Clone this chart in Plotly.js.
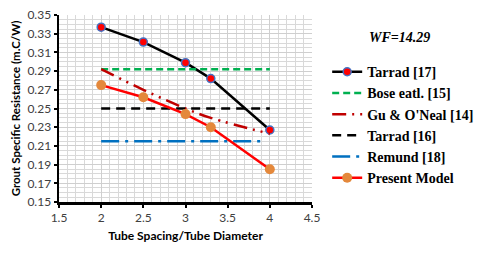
<!DOCTYPE html>
<html><head><meta charset="utf-8">
<script src="https://cdn.plot.ly/plotly-3.0.1.min.js"></script>
<style>body{margin:0;padding:0;background:#fff}</style>
</head><body><div id="chart" style="width:480px;height:254px"></div>
<script>
const xSpacing = [2, 2.5, 3, 3.3, 4];
const tarrad17 = [0.337, 0.321, 0.299, 0.282, 0.227];
const gu = [0.292, 0.270, 0.250, 0.240, 0.223];
const presentModel = [0.275, 0.262, 0.244, 0.230, 0.185];
const flatX = [2, 4];
const bose = [0.292, 0.292];
const tarrad16 = [0.250, 0.250];
const remund = [0.215, 0.215];
const remundX = [2, 3.95];
const names = ['Tarrad [17]', 'Bose eatl. [15]', 'Gu & O\'Neal [14]', 'Tarrad [16]', 'Remund [18]', 'Present Model'];

const traces = [
  {x: xSpacing, y: tarrad17, name: names[0], mode: 'lines+markers',
   line: {color: '#000000', width: 2.5},
   marker: {color: '#FF0000', size: 8, line: {color: '#4472C4', width: 1.5}}},
  {x: flatX, y: bose, name: names[1], mode: 'lines',
   line: {color: '#00B050', width: 2.5, dash: '7px,4px'}},
  {x: xSpacing, y: gu, name: names[2], mode: 'lines', line: {shape: 'spline', color: '#C00000', width: 2.5, dash: '14px,6px,2px,6px,2px,6px'}},
  {x: flatX, y: tarrad16, name: names[3], mode: 'lines',
   line: {color: '#000000', width: 2.5, dash: '9px,6px'}},
  {x: remundX, y: remund, name: names[4], mode: 'lines',
   line: {color: '#0070C0', width: 2.5, dash: '18px,6px,3px,6px'}},
  {x: xSpacing, y: presentModel, name: names[5], mode: 'lines+markers',
   line: {color: '#FF0000', width: 2.5},
   marker: {color: '#E4883B', size: 10}}
];

const layout = {
  width: 480, height: 254,
  margin: {l: 59, r: 168, t: 15, b: 52, autoexpand: false},
  paper_bgcolor: '#ffffff', plot_bgcolor: '#ffffff',
  showlegend: true,
  font: {family: 'Lato, "Open Sans", sans-serif', color: '#404040', size: 11},
  xaxis: {
    range: [1.5, 4.5], dtick: 0.5, tick0: 1.5,
    showgrid: true, gridcolor: '#cfcfcf', gridwidth: 1,
    minor: {dtick: 0.1, showgrid: true, gridcolor: '#d9d9d9', gridwidth: 1},
    showline: true, linecolor: '#000000', linewidth: 2.5,
    ticks: 'outside', ticklen: 3, tickwidth: 2, tickcolor: '#000000',
    zeroline: false,
    tickfont: {size: 12, color: '#404040'},
    title: {text: 'Tube Spacing/Tube Diameter', font: {size: 12, color: '#000000', family: 'Lato, sans-serif', weight: 'bold'}, standoff: 8}
  },
  yaxis: {
    range: [0.15, 0.35], dtick: 0.02, tick0: 0.15,
    showgrid: true, gridcolor: '#cfcfcf', gridwidth: 1,
    minor: {dtick: 0.005, showgrid: true, gridcolor: '#d9d9d9', gridwidth: 1},
    showline: true, linecolor: '#000000', linewidth: 2.5,
    ticks: 'outside', ticklen: 3, tickwidth: 2, tickcolor: '#000000',
    zeroline: false, tickformat: '.2f',
    tickfont: {size: 12, color: '#404040'},
    title: {text: 'Grout Specific Resistance (m.C/W)', font: {size: 11.5, color: '#000000', family: 'Lato, sans-serif', weight: 'bold'}, standoff: 5}
  },
  legend: {
    x: 1.06, y: 0.78, xanchor: 'left', yanchor: 'top',
    font: {family: '"Liberation Serif", "Times New Roman", serif', size: 14, color: '#000000', weight: 'bold'},
    bgcolor: 'rgba(0,0,0,0)', itemwidth: 30, tracegroupgap: 0
  },
  annotations: [{
    text: '<b><i>WF=14.29</i></b>', xref: 'paper', yref: 'paper',
    x: 1.345, y: 0.88, xanchor: 'center', yanchor: 'middle', showarrow: false,
    font: {family: '"Liberation Serif", "Times New Roman", serif', size: 14, color: '#000000'}
  }]
};

Plotly.newPlot('chart', traces, layout, {displayModeBar: false, staticPlot: true});
</script></body></html>
